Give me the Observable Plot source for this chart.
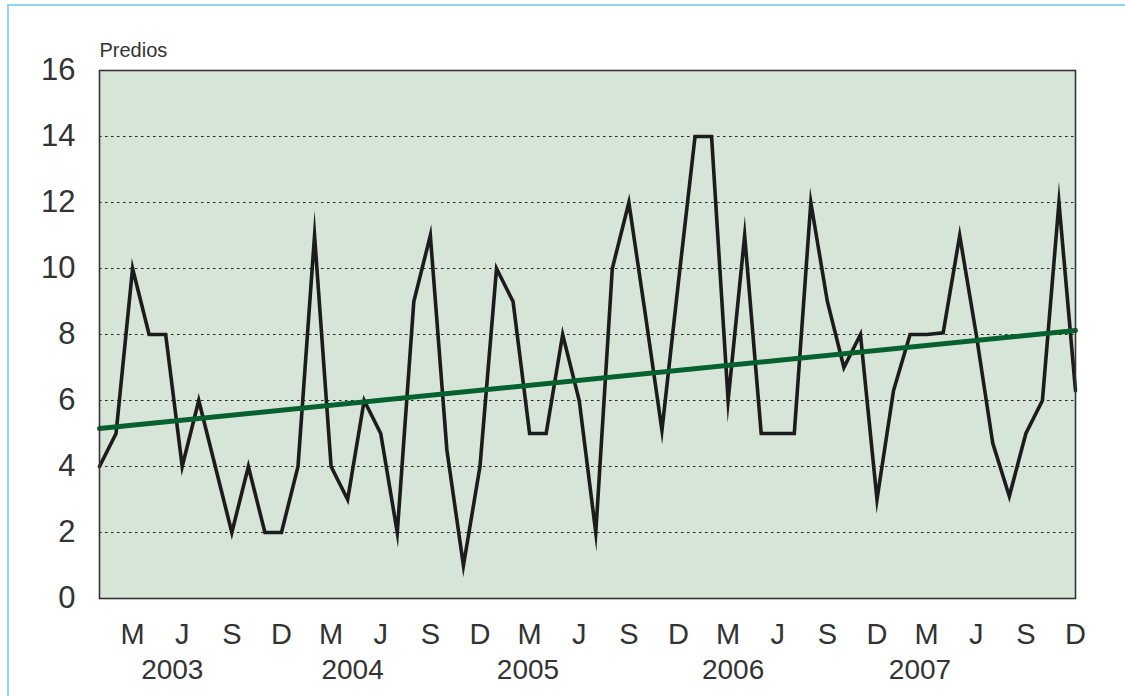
<!DOCTYPE html>
<html><head><meta charset="utf-8">
<script src="https://cdn.jsdelivr.net/npm/d3@7"></script>
<script src="https://cdn.jsdelivr.net/npm/@observablehq/plot@0.6"></script>
<style>
body{margin:0;background:#fff;font-family:"Liberation Sans",Arial,sans-serif;}
#wrap{position:relative;width:1125px;height:696px;overflow:hidden;}
#border{position:absolute;left:7px;top:4px;width:1200px;height:800px;border-top:2px solid #8fd6f2;border-left:2px solid #8fd6f2;}
#chart{position:absolute;left:0;top:0;}
</style></head><body>
<div id="wrap"><div id="border"></div><div id="chart"></div></div>
<script>
// Monthly values (Jan..Dec) per year
const years = ["2003", "2004", "2005", "2006", "2007"];
const values2003 = [4, 5, 10, 8, 8, 4, 6, 4, 2, 4, 2, 2];
const values2004 = [4, 11, 4, 3, 6, 5, 2, 9, 11, 4.5, 1, 4];
const values2005 = [10, 9, 5, 5, 8, 6, 2, 10, 12, 8.6, 5.1, 9.6];
const values2006 = [14, 14, 6, 11, 5, 5, 5, 12, 9, 7, 8, 3];
const values2007 = [6.3, 8, 8, 8.05, 11, 8, 4.7, 3.1, 5, 6, 12, 6.3];
// Trend line values at first and last month
const trendValues = [5.15, 8.12];
// Axis labels
const monthTickLabels = ["M", "J", "S", "D"]; // March, June, September, December
const yTicks = [0, 2, 4, 6, 8, 10, 12, 14, 16];
const yearLabelAt = [4.4, 15.3, 25.9, 38.3, 49.6]; // month index under which each year label sits
const yLabel = "Predios";

const allValues = [values2003, values2004, values2005, values2006, values2007].flat();
const data = allValues.map((v, i) => ({i, v}));
const lastIndex = data.length - 1;
const trend = [{i: 0, v: trendValues[0]}, {i: lastIndex, v: trendValues[1]}];
const monthTicks = d3.range(2, data.length, 3);
const monthTickFormat = (d) => monthTickLabels[((d - 2) / 3) % 4];
const yearData = years.map((y, k) => ({y, at: yearLabelAt[k]}));

const chart = Plot.plot({
  width: 1125,
  height: 696,
  marginLeft: 99,
  marginRight: 50,
  marginTop: 70,
  marginBottom: 98,
  style: {fontFamily: "'Liberation Sans', Arial, sans-serif", color: "#333", background: "transparent"},
  x: {domain: [0, lastIndex], axis: null},
  y: {domain: [0, 16], axis: null},
  marks: [
    Plot.frame({fill: "#d7e5d9", stroke: "none"}),
    Plot.ruleY(yTicks.filter(t => t > 0 && t < 16), {stroke: "#222", strokeWidth: 1, strokeDasharray: "2.5,3.5"}),
    Plot.line(data, {x: "i", y: "v", stroke: "#1c1c1c", strokeWidth: 3.6, strokeLinejoin: "miter", strokeMiterlimit: 20}),
    Plot.line(trend, {x: "i", y: "v", stroke: "#05612e", strokeWidth: 5}),
    Plot.frame({stroke: "#333", strokeWidth: 1.6}),
    Plot.axisY(yTicks, {tickSize: 0, tickPadding: 24, fontSize: 31, label: null}),
    Plot.axisX(monthTicks, {tickSize: 0, tickPadding: 25, fontSize: 29, tickFormat: monthTickFormat, label: null}),
    Plot.text(yearData, {x: "at", text: "y", frameAnchor: "bottom", dy: 80, fontSize: 28, fill: "#333"}),
    Plot.text([yLabel], {frameAnchor: "top-left", dy: -28, textAnchor: "start", fontSize: 20, fill: "#333"})
  ]
});
document.getElementById("chart").appendChild(chart);
</script>
</body></html>
